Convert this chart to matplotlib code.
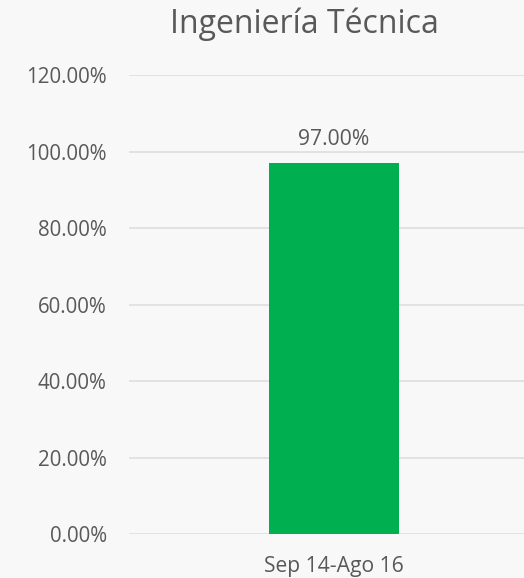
import matplotlib
matplotlib.use("Agg")
import matplotlib.pyplot as plt
from matplotlib.ticker import FuncFormatter

categories = ["Sep 14-Ago 16"]
values = [97.00]
yticks = [0, 20, 40, 60, 80, 100, 120]
title = "Ingeniería Técnica"

plt.rcParams['font.family'] = ['Open Sans', 'DejaVu Sans']
txt = "#595959"

fig = plt.figure(figsize=(5.24, 5.78), dpi=100)
fig.patch.set_facecolor("#f8f8f8")
ax = fig.add_axes([129/524, 1-534/578, 395/524, (534-75)/578])
ax.set_facecolor("none")

x = list(range(len(categories)))
bars = ax.bar(x, values, width=0.329, color="#00B050", zorder=3)
ax.set_xlim(-0.519, 0.481)
ax.set_ylim(0, 120)
ax.set_yticks(yticks)
ax.yaxis.set_major_formatter(FuncFormatter(lambda v, p: f"{v:.2f}%"))
ax.set_xticks(x)
ax.set_xticklabels(categories)
ax.grid(axis="y", color="#dcdcdc", linewidth=1.1, zorder=0)
for s in ax.spines.values():
    s.set_visible(False)
ax.tick_params(axis="both", length=0, labelsize=14.8, colors=txt)
ax.tick_params(axis="y", pad=16)
ax.tick_params(axis="x", labelsize=15.2, pad=16)
for b, v in zip(bars, values):
    ax.annotate(f"{v:.2f}%", (b.get_x()+b.get_width()/2, v), xytext=(0, 9),
                textcoords="offset points", ha="center", va="bottom",
                fontsize=15.2, color=txt)
fig.text(304/524, 1-24/578, title, ha="center", va="center", fontsize=23, color=txt)
fig.savefig("out.png", dpi=100, facecolor=fig.get_facecolor())
